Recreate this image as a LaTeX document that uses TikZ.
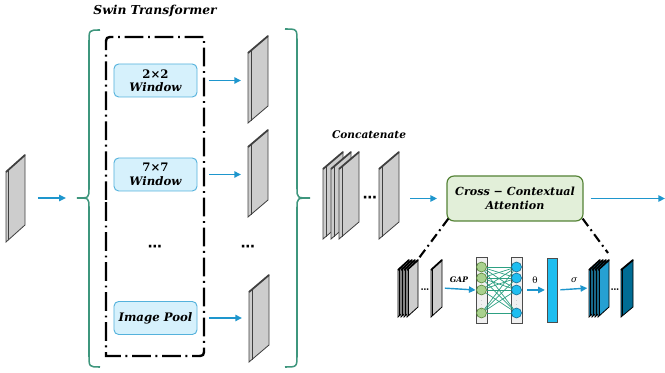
\documentclass[tikz,border=0pt]{standalone}
\usepackage{amsmath,amssymb}
\usepackage{fontspec}
\newfontfamily\lblfont{DejaVu Serif}
\newfontfamily\symfont{DejaVu Sans}
\usetikzlibrary{arrows.meta,positioning,calc}
\definecolor{flowblue}{RGB}{30,150,205}
\definecolor{bracegreen}{RGB}{62,150,125}
\definecolor{winfill}{RGB}{214,241,252}
\definecolor{windraw}{RGB}{84,178,220}
\definecolor{ccafill}{RGB}{226,239,217}
\definecolor{ccadraw}{RGB}{84,130,53}
\definecolor{nodegreen}{RGB}{169,209,142}
\definecolor{nodeblue}{RGB}{30,190,240}
\definecolor{fcline}{RGB}{45,160,130}
\definecolor{slabgray}{RGB}{205,205,205}
\definecolor{slabblue}{RGB}{38,160,210}
\definecolor{slabdark}{RGB}{0,108,148}
\tikzset{
  flow/.style={-{Triangle[length=2mm,width=1.9mm]}, flowblue, line width=1.2pt},
  brc/.style={bracegreen, line width=1.3pt},
  dbox/.style={line width=2pt, dash pattern=on 16pt off 4pt on 1.6pt off 4pt},
  dlink/.style={line width=1.8pt, dash pattern=on 8pt off 3.5pt on 1.6pt off 3.5pt},
  win/.style={draw=windraw, fill=winfill, rounded corners=4pt, line width=0.8pt,
              minimum width=2.49cm, minimum height=0.99cm, align=center,
              inner sep=1pt, font=\lblfont\fontsize{10}{11.5}\selectfont\bfseries\itshape},
  cca/.style={draw=ccadraw, fill=ccafill, rounded corners=6pt, line width=1pt,
              minimum width=4.08cm, minimum height=1.35cm, align=center,
              inner sep=1pt, font=\lblfont\fontsize{9.5}{11.5}\selectfont\bfseries\itshape},
  ttl/.style={font=\lblfont\fontsize{10.5}{12}\selectfont\bfseries\itshape},
  dts/.style={font=\symfont\fontsize{12}{13}\selectfont\bfseries, inner sep=0pt},
  sdts/.style={font=\symfont\fontsize{7}{8}\selectfont\bfseries, inner sep=0pt},
  col/.style={draw=black!70, fill=black!6, line width=0.7pt,
              minimum width=0.33cm, minimum height=1.98cm, inner sep=0pt},
  gn/.style={circle, draw=ccadraw, fill=nodegreen, line width=0.5pt,
             minimum size=0.3cm, inner sep=0pt},
  bn/.style={circle, draw=flowblue!70!black, fill=nodeblue, line width=0.5pt,
             minimum size=0.3cm, inner sep=0pt},
  fc/.style={fcline, line width=0.6pt},
  bar/.style={draw=black!70, fill=nodeblue, line width=0.7pt,
              minimum width=0.3cm, minimum height=1.92cm, inner sep=0pt},
  slbl/.style={font=\lblfont\fontsize{7.5}{9}\selectfont, inner sep=1pt},
}
% x, bottom y, width, height, slant, fill, edge
\newcommand{\slab}[7]{%
  \filldraw[fill=#6, draw=#7, line width=0.7pt]
    (#1,#2) -- ++(0,-#4) -- ++(#3,-#5) -- ++(0,#4) -- cycle;
  \draw[#7, line width=0.5pt] ({#1+0.14*#3},{#2-#5*0.14}) -- ({#1+0.14*#3},{#2-#4-#5*0.14});
  \draw[#7, line width=1.5pt] (#1,#2-#4) -- ++(#3,-#5);}

\begin{document}
\begin{tikzpicture}[x=0.03cm, y=-0.03cm]
  \useasboundingbox (0,0) rectangle (665,373);

  % input feature map
  \slab{6}{242}{19}{70}{17}{slabgray}{black!75}
  \coordinate (inp) at (25,198);
  \coordinate (lb) at (77,198);
  \draw[flow, shorten <=11pt, shorten >=9.5pt] (inp) -- (lb);

  % swin branch
  \node[ttl] (swin) at (155,11) {Swin Transformer};
  \draw[brc] (100,30) .. controls (89,30) .. (89,42) -- (89,188)
    .. controls (89,198) .. (lb) .. controls (89,198) .. (89,208)
    -- (89,355) .. controls (89,367) .. (100,367);
  \draw[dbox] (106,200) -- (106,45) .. controls (106,37) .. (114,37) -- (204,37)
    -- (204,348) .. controls (204,356) .. (196,356) -- (106,356) -- cycle;

  \node[win] (w2) at (155.5,80.5) {{\upshape 2×2}\\Window};
  \node[win] (w7) at (155.5,174.5) {{\upshape 7×7}\\Window};
  \node[win] (wp) at (155.5,318) {Image Pool};
  \node[dts] (dl) at (155,248) {⋯};

  \slab{248}{123}{20}{70}{17}{slabgray}{black!75}
  \slab{248}{217}{20}{70}{17}{slabgray}{black!75}
  \slab{249}{362}{20}{70}{17}{slabgray}{black!75}
  \coordinate (p1) at (248,80.5);
  \coordinate (p2) at (248,174.5);
  \coordinate (p3) at (249,318);
  \node[dts] (dr) at (248,248) {⋯};
  \draw[flow, shorten <=10pt, shorten >=6pt] (w2.east) -- (p1);
  \draw[flow, shorten <=10pt, shorten >=6pt] (w7.east) -- (p2);
  \draw[flow, shorten <=10pt, shorten >=6pt] (wp.east) -- (p3);

  \coordinate (rb) at (310,198);
  \draw[brc] (285,29) .. controls (297,29) .. (297,41) -- (297,188)
    .. controls (297,198) .. (rb) .. controls (297,198) .. (297,208)
    -- (297,355) .. controls (297,367) .. (285,367);

  % concatenation
  \node[ttl, font=\lblfont\fontsize{9}{10}\selectfont\bfseries\itshape] (cat) at (369,135) {Concatenate};
  \foreach \x in {323,331,339}
    \slab{\x}{239}{20}{70}{17}{slabgray}{black!75};
  \slab{379}{239}{20}{70}{17}{slabgray}{black!75}
  \node[dts] (dc) at (370,199) {⋯};
  \coordinate (cr) at (399,198.5);

  \node[cca] (att) at (515,198.5) {Cross − Contextual\\Attention};
  \draw[flow, shorten <=9.5pt, shorten >=8pt] (cr) -- (att.west);
  \coordinate (out) at (665,198.5);
  \draw[flow, shorten <=6pt] (att.east) -- (out);

  % zoom-in of the attention block
  \coordinate (zl) at (419,258);
  \coordinate (zr) at (608,253);
  \draw[dlink] ([shift={(2,-3)}]att.south west) -- (zl);
  \draw[dlink] ([shift={(-1,-3)}]att.south east) -- (zr);

  \foreach \x in {398,401,404,407}
    \slab{\x}{317}{11}{47}{10}{slabgray}{black};
  \slab{431}{317}{11}{47}{10}{slabgray}{black}
  \node[sdts] (ds1) at (425,291) {⋯};
  \coordinate (gin) at (442,288);

  \node[col] (cg) at (481.5,290) {};
  \node[col] (cb) at (516.5,290) {};
  \foreach \i/\y in {1/267,2/278,3/290,4/313} {
    \node[gn] (g\i) at (481.5,\y) {};
    \node[bn] (b\i) at (516.5,\y) {};
  }
  \foreach \i in {1,...,4}
    \foreach \j in {1,...,4}
      \draw[fc] (g\i) -- (b\j);
  \node[font=\tiny, inner sep=0pt, text=black!60] (vg) at (481.5,302) {$\vdots$};
  \node[font=\tiny, inner sep=0pt, text=black!60] (vb) at (516.5,302) {$\vdots$};

  \node[slbl, font=\lblfont\fontsize{6.5}{8}\selectfont\bfseries\itshape] (gap) at (459,280) {GAP};
  \draw[flow, shorten <=2.5pt] (gin) -- (cg.west);

  \node[bar] (fb) at (552,290) {};
  \node[slbl] (th) at (535,280) {θ};
  \draw[flow, shorten <=4pt, shorten >=1.5pt] (cb.east) -- (fb.west);

  \coordinate (sin) at (589,288);
  \node[slbl] (sg) at (574,280) {\itshape σ};
  \draw[flow, shorten <=2.5pt, shorten >=1.5pt] (fb.east) -- (sin);

  \foreach \x in {589,592,595,598}
    \slab{\x}{317}{11}{47}{10}{slabblue}{black};
  \slab{621}{317}{12}{47}{10}{slabdark}{black}
  \node[sdts] (ds2) at (615,291) {⋯};
\end{tikzpicture}
\end{document}
